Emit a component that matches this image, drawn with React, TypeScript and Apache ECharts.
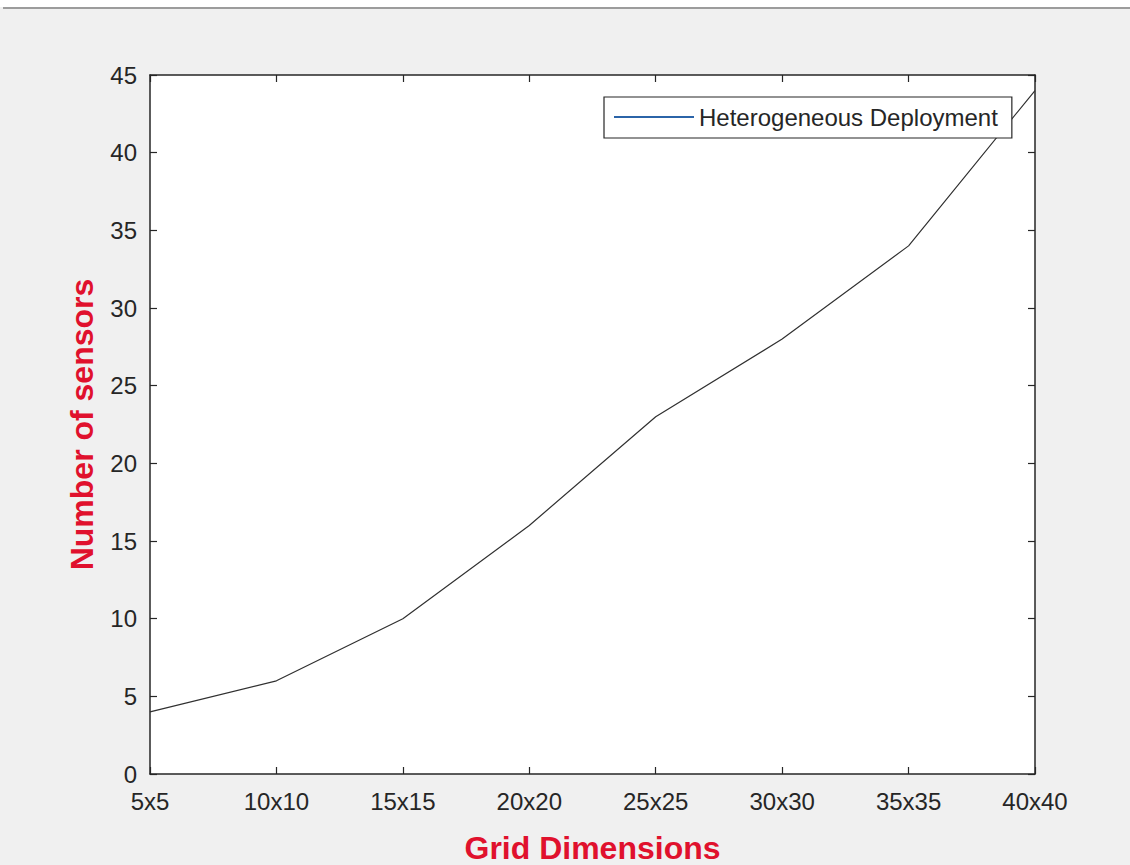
import React, { useEffect, useRef } from "react";
import * as echarts from "echarts";

const categories = ["5x5", "10x10", "15x15", "20x20", "25x25", "30x30", "35x35", "40x40"];
const sensors = [4, 6, 10, 16, 23, 28, 34, 44];
const seriesName = "Heterogeneous Deployment";
const yMin = 0;
const yMax = 45;
const yInterval = 5;

const FONT = "'Liberation Sans', Arial, Helvetica, sans-serif";
const AXIS_COLOR = "#262626";
const RED = "#e0112d";

export default function App() {
  const ref = useRef<HTMLDivElement>(null);

  useEffect(() => {
    document.body.style.margin = "0";
    if (!ref.current) return;
    const chart = echarts.init(ref.current, undefined, { renderer: "svg" });
    const axisLine = { show: true, onZero: false, lineStyle: { color: AXIS_COLOR, width: 1.5 } };
    const axisTick = { show: true, inside: true, length: 7, lineStyle: { color: AXIS_COLOR, width: 1.2 } };
    chart.setOption({
      animation: false,
      backgroundColor: "#f0f0f0",
      graphic: [
        { type: "rect", shape: { x: 0, y: 0, width: 1130, height: 7 }, style: { fill: "#ffffff" }, z: -10 },
        { type: "line", shape: { x1: 3, y1: 8, x2: 1130, y2: 8 }, style: { stroke: "#9c9c9c", lineWidth: 2 }, z: -9 },
      ],
      grid: {
        left: 150,
        right: 95,
        top: 75,
        bottom: 91,
        containLabel: false,
        outerBoundsMode: "none",
        show: true,
        backgroundColor: "#ffffff",
        borderWidth: 0,
      },
      legend: {
        show: true,
        left: 604,
        top: 97,
        orient: "vertical",
        backgroundColor: "#ffffff",
        borderColor: AXIS_COLOR,
        borderWidth: 1.2,
        borderRadius: 0,
        padding: [8, 14, 9, 10],
        itemWidth: 80,
        itemHeight: 2,
        icon: "rect",
        textStyle: { fontFamily: FONT, fontSize: 24, color: AXIS_COLOR },
        data: [{ name: seriesName, itemStyle: { color: "#2b64a8" } }],
      },
      xAxis: [
        {
          type: "category",
          data: categories,
          boundaryGap: false,
          position: "bottom",
          axisLine,
          axisTick: { ...axisTick, alignWithLabel: true },
          splitLine: { show: false },
          axisLabel: { fontFamily: FONT, fontSize: 24, color: AXIS_COLOR, margin: 15 },
          name: "Grid Dimensions",
          nameLocation: "middle",
          nameGap: 58,
          nameTextStyle: { fontFamily: FONT, fontSize: 32, fontWeight: "bold", color: RED },
        },
        {
          type: "category",
          data: categories,
          boundaryGap: false,
          position: "top",
          axisLine,
          axisTick,
          axisLabel: { show: false },
          splitLine: { show: false },
        },
      ],
      yAxis: [
        {
          type: "value",
          min: yMin,
          max: yMax,
          interval: yInterval,
          position: "left",
          axisLine,
          axisTick,
          splitLine: { show: false },
          axisLabel: { fontFamily: FONT, fontSize: 24, color: AXIS_COLOR, margin: 13 },
          name: "Number of sensors",
          nameLocation: "middle",
          nameRotate: 90,
          nameGap: 52,
          nameTextStyle: { fontFamily: FONT, fontSize: 32, fontWeight: "bold", color: RED },
        },
        {
          type: "value",
          min: yMin,
          max: yMax,
          interval: yInterval,
          position: "right",
          axisLine,
          axisTick,
          splitLine: { show: false },
          axisLabel: { show: false },
        },
      ],
      series: [
        {
          name: seriesName,
          type: "line",
          data: sensors,
          xAxisIndex: 0,
          yAxisIndex: 0,
          showSymbol: false,
          symbol: "none",
          lineStyle: { color: "#303030", width: 1.2 },
          itemStyle: { color: "#303030" },
          z: 3,
        },
      ],
    });
    return () => chart.dispose();
  }, []);

  return <div ref={ref} style={{ width: 1130, height: 865 }} />;
}
